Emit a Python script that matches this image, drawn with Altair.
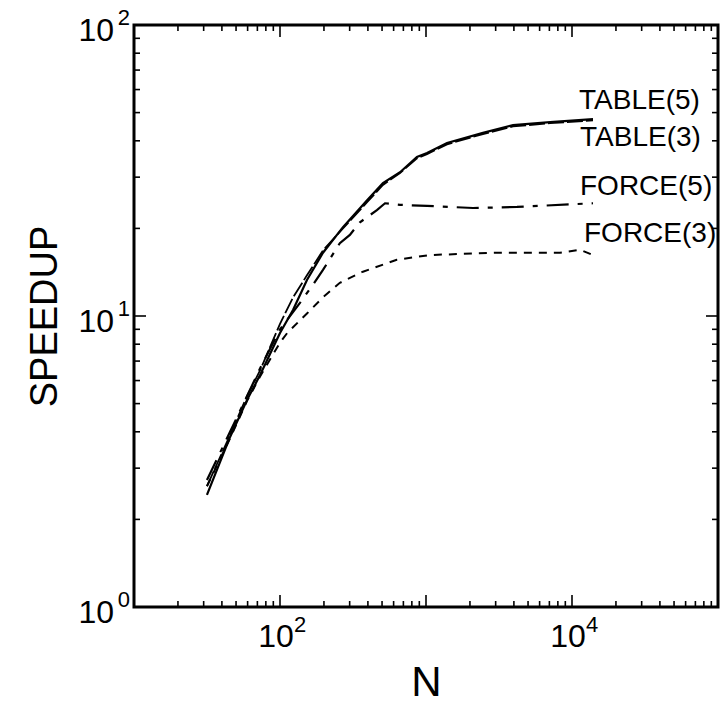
import altair as alt
import pandas as pd

# ---------------- data ----------------
N_TABLE5 = [31.6, 45.5, 59.4, 73, 100, 123, 153, 197, 270, 395, 507, 664, 867, 1016, 1393, 2455, 3945, 7080, 13930]
S_TABLE5 = [2.43, 3.84, 5.14, 6.27, 8.74, 10.5, 13.3, 16.5, 20.2, 25.0, 28.6, 31.2, 35.2, 36.3, 39.3, 42.6, 45.3, 46.4, 47.5]

N_TABLE3 = [31.6, 45.5, 59.4, 73, 100, 123, 153, 197, 270, 395, 507, 664, 867, 1016, 1393, 2455, 3945, 7080, 13930]
S_TABLE3 = [2.6, 3.9, 5.3, 6.5, 9.4, 11.6, 13.8, 16.8, 20.0, 24.6, 28.2, 31.0, 34.8, 36.0, 38.9, 42.2, 44.8, 46.0, 47.0]

N_FORCE5 = [31.6, 45.5, 59.4, 73, 100, 137, 168, 197, 257, 301, 353, 461, 524, 664, 1016, 2100, 4200, 13930]
S_FORCE5 = [2.73, 4.0, 5.3, 6.6, 9.0, 11.1, 12.8, 14.4, 17.8, 19.0, 21.0, 23.1, 24.4, 24.1, 23.9, 23.5, 23.7, 24.4]

N_FORCE3 = [31.6, 45.5, 59.4, 73, 100, 112, 153, 197, 257, 370, 631, 1064, 3063, 8280, 11350, 13930]
S_FORCE3 = [2.6, 3.8, 5.1, 6.2, 8.1, 8.74, 10.2, 11.6, 13.0, 14.2, 15.6, 16.2, 16.5, 16.5, 16.9, 16.2]

SERIES = ["TABLE(5)", "TABLE(3)", "FORCE(5)", "FORCE(3)"]

X_LABEL_VALUES = [100, 10000]
X_LABEL_EXP = ["2", "4"]
Y_LABEL_VALUES = [1, 10, 100]
Y_LABEL_EXP = ["0", "1", "2"]

X_MAJOR = [100, 1000, 10000]
X_MINOR = [m * 10 ** k for k in (1, 2, 3, 4) for m in (2, 3, 4, 5, 6, 7, 8, 9)]
Y_MAJOR = [10]
Y_MINOR = [m * 10 ** k for k in (0, 1) for m in (2, 3, 4, 5, 6, 7, 8, 9)]

# ---------------- layout / style ----------------
W, H = 584, 582
FONT = "Liberation Sans"

xs = alt.Scale(type="log", domain=[10, 100000], nice=False)
ys = alt.Scale(type="log", domain=[1, 100], nice=False)

xaxis = alt.Axis(title="N", labels=False, ticks=False, domain=False, grid=False,
                 titleFont=FONT, titleFontSize=42, titleFontWeight="normal",
                 titleColor="black", titlePadding=55)
yaxis = alt.Axis(title="SPEEDUP", labels=False, ticks=False, domain=False, grid=False,
                 titleFont=FONT, titleFontSize=38, titleFontWeight="normal",
                 titleColor="black", titlePadding=70)


def X(field):
    return alt.X(field, type="quantitative", scale=xs, axis=xaxis)


def Y(field):
    return alt.Y(field, type="quantitative", scale=ys, axis=yaxis)


layers = []

styles = {
    "TABLE(5)": dict(strokeWidth=2.2),
    "TABLE(3)": dict(strokeWidth=1.8, strokeDash=[16, 3]),
    "FORCE(5)": dict(strokeWidth=2.2, strokeDash=[22, 9, 5, 9]),
    "FORCE(3)": dict(strokeWidth=2.0, strokeDash=[8, 7]),
}
data = {
    "TABLE(5)": (N_TABLE5, S_TABLE5),
    "TABLE(3)": (N_TABLE3, S_TABLE3),
    "FORCE(5)": (N_FORCE5, S_FORCE5),
    "FORCE(3)": (N_FORCE3, S_FORCE3),
}
label_offsets = {
    "TABLE(5)": (-14, -10),
    "TABLE(3)": (-13, 26),
    "FORCE(5)": (-13, -8),
    "FORCE(3)": (-9, -13),
}

for name in SERIES:
    n, s = data[name]
    df = pd.DataFrame({"N": n, "S": s})
    layers.append(
        alt.Chart(df).mark_line(color="black", **styles[name]).encode(x=X("N"), y=Y("S"))
    )
    dx, dy = label_offsets[name]
    lab = pd.DataFrame({"N": [n[-1]], "S": [s[-1]], "label": [name]})
    layers.append(
        alt.Chart(lab).mark_text(font=FONT, fontSize=28, color="black", align="left",
                                 baseline="alphabetic", dx=dx, dy=dy)
        .encode(x=X("N"), y=Y("S"), text="label:N")
    )

# ---------------- inward ticks on all four sides ----------------
MAJ, MIN = 12, 6
xmaj = pd.DataFrame({"v": X_MAJOR})
xmin = pd.DataFrame({"v": X_MINOR})
ymaj = pd.DataFrame({"v": Y_MAJOR})
ymin = pd.DataFrame({"v": Y_MINOR})

for df, size in ((xmaj, MAJ), (xmin, MIN)):
    layers.append(alt.Chart(df).mark_rule(color="black", strokeWidth=1.6).encode(
        x=X("v"), y=alt.value(H), y2=alt.value(H - size)))
    layers.append(alt.Chart(df).mark_rule(color="black", strokeWidth=1.6).encode(
        x=X("v"), y=alt.value(0), y2=alt.value(size)))
for df, size in ((ymaj, MAJ), (ymin, MIN)):
    layers.append(alt.Chart(df).mark_rule(color="black", strokeWidth=1.6).encode(
        y=Y("v"), x=alt.value(0), x2=alt.value(size)))
    layers.append(alt.Chart(df).mark_rule(color="black", strokeWidth=1.6).encode(
        y=Y("v"), x=alt.value(W), x2=alt.value(W - size)))

# ---------------- tick labels 10^k ----------------
xl = pd.DataFrame({"v": X_LABEL_VALUES, "e": X_LABEL_EXP})
yl = pd.DataFrame({"v": Y_LABEL_VALUES, "e": Y_LABEL_EXP})

layers.append(alt.Chart(xl).mark_text(text="10", font=FONT, fontSize=32, color="black",
                                      align="center", baseline="alphabetic", dx=-4)
              .encode(x=X("v"), y=alt.value(H + 40)))
layers.append(alt.Chart(xl).mark_text(font=FONT, fontSize=22, color="black",
                                      align="left", baseline="alphabetic", dx=14)
              .encode(x=X("v"), y=alt.value(H + 25), text="e:N"))
layers.append(alt.Chart(yl).mark_text(text="10", font=FONT, fontSize=32, color="black",
                                      align="right", baseline="alphabetic", dy=16)
              .encode(y=Y("v"), x=alt.value(-20)))
layers.append(alt.Chart(yl).mark_text(font=FONT, fontSize=22, color="black",
                                      align="right", baseline="alphabetic", dy=0)
              .encode(y=Y("v"), x=alt.value(-4), text="e:N"))

chart = (
    alt.layer(*layers)
    .properties(width=W, height=H, autosize=alt.AutoSizeParams(type="none"),
                padding={"left": 134, "top": 25, "right": 2, "bottom": 101},
                background="white")
    .configure_view(stroke="black", strokeWidth=3)
)

chart.save("out.html", embed_options={"renderer": "svg", "actions": False})
